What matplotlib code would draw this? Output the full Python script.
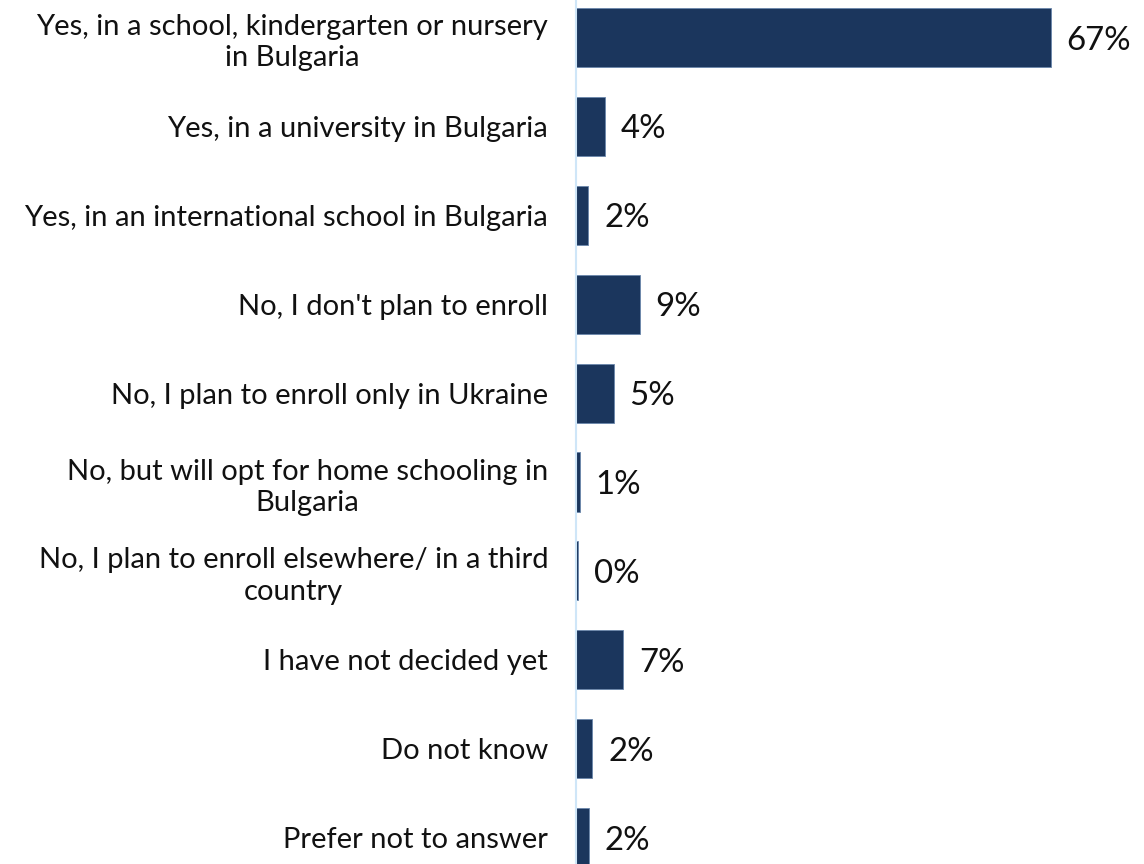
import numpy as np
import matplotlib.pyplot as plt

plt.rcParams['font.family'] = ['Lato', 'DejaVu Sans']

categories = [
    "Yes, in a school, kindergarten or nursery\nin Bulgaria",
    "Yes, in a university in Bulgaria",
    "Yes, in an international school in Bulgaria",
    "No, I don't plan to enroll",
    "No, I plan to enroll only in Ukraine",
    "No, but will opt for home schooling in\nBulgaria",
    "No, I plan to enroll elsewhere/ in a third\ncountry",
    "I have not decided yet",
    "Do not know",
    "Prefer not to answer",
]
values = [67.0, 4.1, 1.7, 9.0, 5.3, 0.5, 0.24, 6.7, 2.3, 1.8]
labels = ["67%", "4%", "2%", "9%", "5%", "1%", "0%", "7%", "2%", "2%"]

bar_color = '#1b365d'

fig = plt.figure(figsize=(11.44, 8.64), dpi=100)
ax = fig.add_axes([576 / 1144, 0, 1 - 576 / 1144, 1])

y = np.arange(len(categories))
ax.barh(y, values, height=0.664, color=bar_color, edgecolor='#6a86ab', linewidth=0.6)

ax.set_xlim(0, 568 / 7.085)
ax.set_ylim(9.297, -0.422)

for yi, v, lab in zip(y, values, labels):
    ax.annotate(lab, (v, yi), xytext=(11.5, 0), textcoords='offset points',
                va='center_baseline', ha='left', fontsize=23.8, color='#111111')

ax.set_yticks(y)
ax.set_yticklabels(categories, fontsize=21, color='#111111', multialignment='center',
                   linespacing=1.25)
ax.tick_params(axis='y', length=0, pad=20)
ax.set_xticks([])

for s in ['top', 'right', 'bottom']:
    ax.spines[s].set_visible(False)
ax.spines['left'].set_color('#cfe6f8')
ax.spines['left'].set_linewidth(1.5)

fig.savefig('out.png', dpi=100)
